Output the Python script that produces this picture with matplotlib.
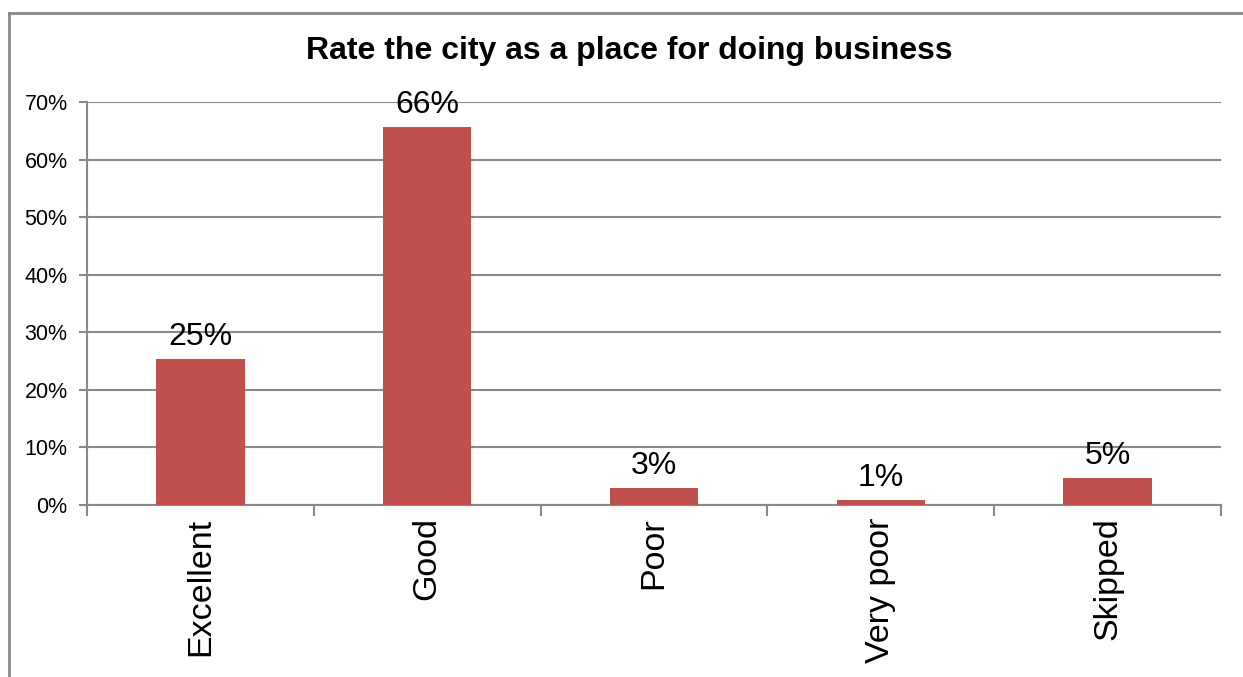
import numpy as np
import matplotlib.pyplot as plt
from matplotlib.lines import Line2D
from matplotlib.ticker import FixedLocator, FuncFormatter

# survey answers, share of respondents in percent
categories = ["Excellent", "Good", "Poor", "Very poor", "Skipped"]
shares = [25.4, 65.6, 3.0, 0.9, 4.7]

plt.rcParams['font.family'] = ['Liberation Sans', 'DejaVu Sans']

fig = plt.figure(figsize=(12.43, 6.77), dpi=100)
ax = fig.add_axes([87 / 1243, 1 - 505 / 677, 1134 / 1243, 403 / 677])

gray = "#898989"
x = np.arange(len(categories))
bars = ax.bar(x, shares, width=0.39, color="#C0504D", zorder=3)

for b, v in zip(bars, shares):
    ax.text(b.get_x() + b.get_width() / 2, v + 1.2, f"{v:.0f}%",
            ha="center", va="bottom", fontsize=23, zorder=4)

ax.set_xlim(-0.5, len(categories) - 0.5)
ax.set_ylim(0, 70)
ax.set_yticks(np.arange(0, 71, 10))
ax.yaxis.set_major_formatter(FuncFormatter(lambda v, p: f"{v:.0f}%"))
ax.yaxis.grid(True, color=gray, linewidth=1.5, zorder=0)

# category names sit between the boundary ticks
ax.set_xticks(x)
ax.set_xticklabels(categories, rotation=90, fontsize=24.5)
ax.xaxis.set_minor_locator(FixedLocator(np.arange(-0.5, len(categories), 1)))
ax.tick_params(axis="x", which="major", length=0, pad=9)
ax.tick_params(axis="x", which="minor", length=8, width=1.5, color=gray)
ax.tick_params(axis="y", length=6, width=1.5, color=gray, labelsize=15.5, pad=8)

for side in ("top", "right"):
    ax.spines[side].set_visible(False)
for side in ("left", "bottom"):
    ax.spines[side].set_color(gray)
    ax.spines[side].set_linewidth(1.5)

fig.text(629 / 1243, 1 - 51 / 677, "Rate the city as a place for doing business",
         ha="center", va="center", fontsize=23, fontweight="bold")

# outer chart frame (top and left edges)
fig.add_artist(Line2D([9 / 1243, 1], [1 - 13 / 677, 1 - 13 / 677],
                      transform=fig.transFigure, color=gray, linewidth=2))
fig.add_artist(Line2D([9 / 1243, 9 / 1243], [0, 1 - 13 / 677],
                      transform=fig.transFigure, color=gray, linewidth=2))

fig.savefig("out.png", dpi=100)
